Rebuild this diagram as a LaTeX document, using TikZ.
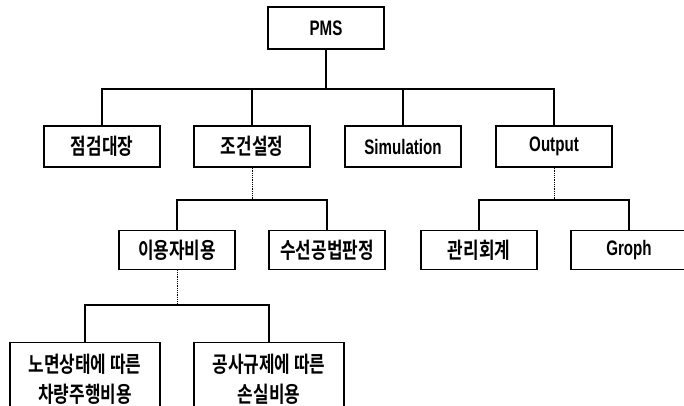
\documentclass[tikz,border=0pt]{standalone}
\usepackage{fontspec}
\newfontfamily\krfont[FakeStretch=0.77]{Noto Sans CJK KR Bold}
\newfontfamily\enfont[FakeStretch=0.72]{Liberation Sans Bold}
\begin{document}
\begin{tikzpicture}[x=1pt,y=-1pt,
  box/.style={draw, rectangle, line width=1.4pt, minimum width=116pt, inner sep=0pt},
  wbox/.style={draw, rectangle, line width=1.4pt, minimum width=150pt, minimum height=74pt, inner sep=0pt, align=center, anchor=north},
  kr/.style={font=\krfont\fontsize{22}{30}\selectfont},
  en/.style={font=\enfont\fontsize{21}{25}\selectfont},
  link/.style={line width=1.1pt},
  dlink/.style={line width=0.8pt, densely dotted}]
 \useasboundingbox (0,0) rectangle (684,405);

 % top
 \node[box, en, minimum height=42pt] (pms) at (326,28) {PMS};
 \coordinate (bus1) at (326,89);

 % first level
 \node[box, kr, minimum height=41pt] (jd) at (102,146.5) {점검대장};
 \node[box, kr, minimum height=41pt] (jg) at (252,146.5) {조건설정};
 \node[box, en, minimum height=41pt] (sim) at (403,146.5) {Simulation};
 \node[box, en, minimum height=41pt] (out) at (554,146.5) {Output};

 % second level
 \coordinate (b2) at (252,200);
 \coordinate (b3) at (554,200);
 \node[box, kr, minimum height=39pt] (ij) at (177,250) {이용자비용};
 \node[box, kr, minimum height=39pt] (sg) at (327,250) {수선공법판정};
 \node[box, kr, minimum height=39pt] (gh) at (479,250) {관리회계};
 \node[box, en, minimum height=39pt] (gr) at (629,250) {Groph};

 % third level
 \coordinate (b4) at (177,305);
 \node[wbox, kr] (ns) at (85,342) {노면상태에 따른\\차량주행비용};
 \node[wbox, kr] (gs) at (269,342) {공사규제에 따른\\손실비용};

 % connectors
 \draw[link] (pms) -- (bus1);
 \foreach \n in {jd,jg,sim,out} \draw[link] (\n.north) |- (bus1);
 \draw[dlink] (jg) -- (b2);
 \foreach \n in {ij,sg} \draw[link] (\n.north) |- (b2);
 \draw[dlink] (out) -- (b3);
 \foreach \n in {gh,gr} \draw[link] (\n.north) |- (b3);
 \draw[dlink] (ij) -- (b4);
 \foreach \n in {ns,gs} \draw[link] (\n.north) |- (b4);
\end{tikzpicture}
\end{document}
